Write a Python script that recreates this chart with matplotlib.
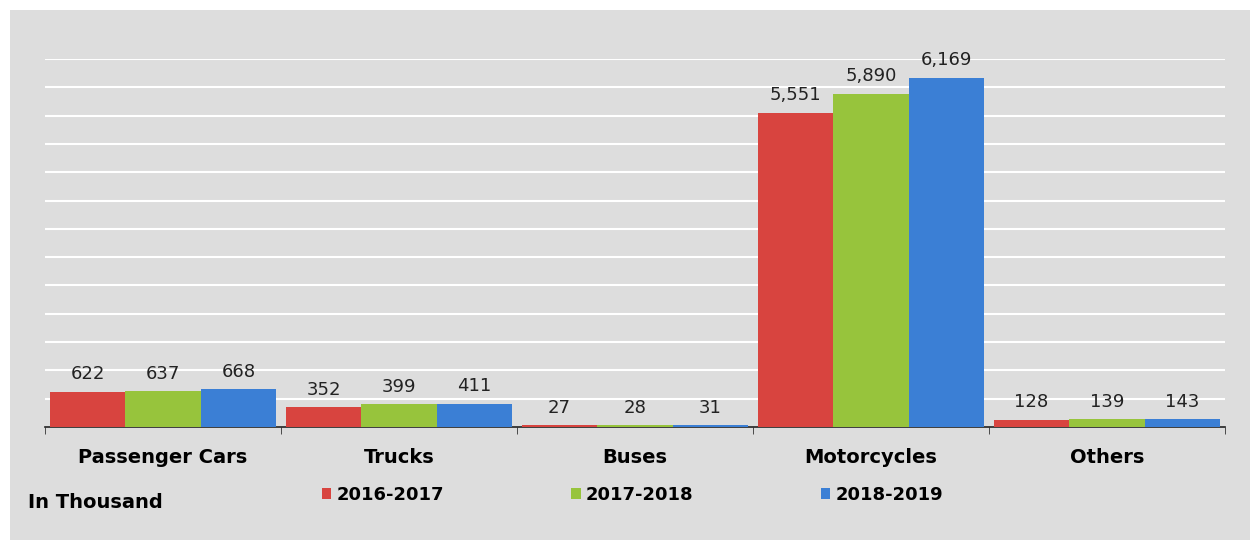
import matplotlib.pyplot as plt
from matplotlib.patches import Rectangle
import numpy as np

plt.rcParams['font.family'] = ['DejaVu Sans']

categories = ['Passenger Cars', 'Trucks', 'Buses', 'Motorcycles', 'Others']
years = ['2016-2017', '2017-2018', '2018-2019']
v_2016 = [622, 352, 27, 5551, 128]
v_2017 = [637, 399, 28, 5890, 139]
v_2018 = [668, 411, 31, 6169, 143]
series = [v_2016, v_2017, v_2018]
colors = ['#d8443f', '#97c43c', '#3b7fd5']

fig = plt.figure(figsize=(12.58, 5.4), dpi=100)
fig.patch.set_facecolor('white')
# grey panel behind the chart
fig.patches.append(Rectangle((10 / 1258, 0), 1240 / 1258, 1 - 10 / 540,
                             transform=fig.transFigure, facecolor='#dddddd',
                             edgecolor='none', zorder=-10))

ax = fig.add_axes([45 / 1258, 1 - 427 / 540, 1180 / 1258, 368 / 540])
ax.set_facecolor('none')

x = np.arange(len(categories))
w = 0.32
for i, (vals, col, lab) in enumerate(zip(series, colors, years)):
    bars = ax.bar(x + (i - 1) * w, vals, w, color=col, label=lab, zorder=3)
    for b, v in zip(bars, vals):
        ax.annotate(f'{v:,}', (b.get_x() + b.get_width() / 2, v),
                    xytext=(0, 6), textcoords='offset points',
                    ha='center', va='bottom', fontsize=13, color='#222222')

ax.set_xlim(-0.5, len(categories) - 0.5)
ax.set_ylim(0, 6500)
ax.set_yticks(np.arange(500, 6501, 500))
ax.yaxis.grid(True, color='white', linewidth=1.5, zorder=0)
ax.tick_params(axis='y', left=False, labelleft=False)

ax.set_xticks(x)
ax.set_xticklabels(categories, fontsize=14, fontweight='bold')
ax.set_xticks(np.arange(-0.5, len(categories)), minor=True)
ax.tick_params(axis='x', which='major', length=0, pad=15)
ax.tick_params(axis='x', which='minor', length=5, color='#333333')

for s in ['top', 'left', 'right']:
    ax.spines[s].set_visible(False)
ax.spines['bottom'].set_color('#222222')
ax.spines['bottom'].set_linewidth(1.2)

fig.text(28 / 1258, 1 - 503 / 540, 'In Thousand', fontsize=14,
         fontweight='bold', va='center', ha='left')

fig.legend(loc='center left', bbox_to_anchor=(306 / 1258, 1 - 495 / 540),
           ncol=3, frameon=False, handlelength=0.5, handleheight=0.5,
           handletextpad=0.3, columnspacing=7.05,
           prop={'weight': 'bold', 'size': 13})

fig.savefig('out.png', dpi=100, facecolor=fig.get_facecolor())
